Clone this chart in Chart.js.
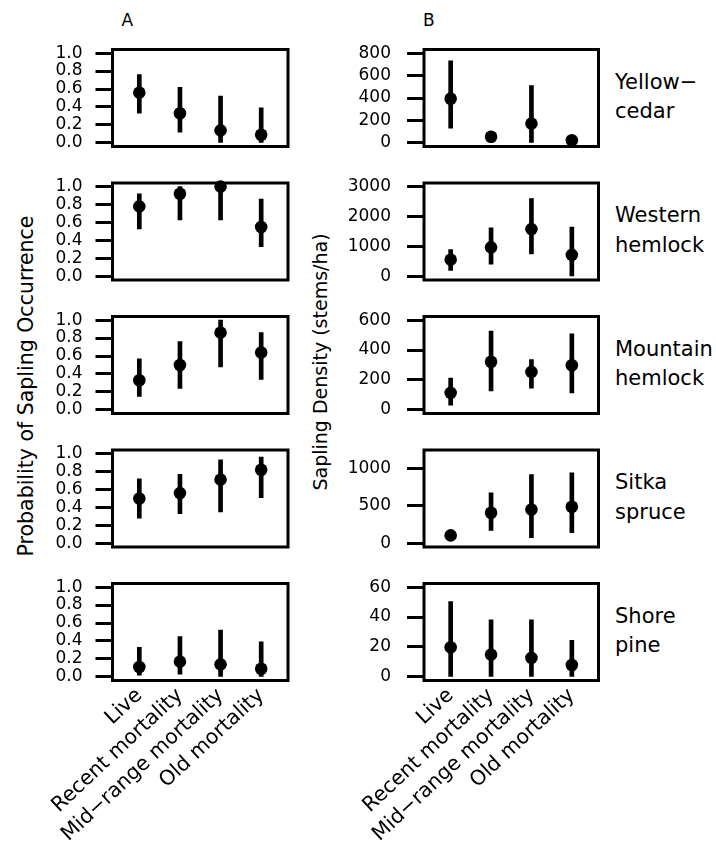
<!DOCTYPE html>
<html>
<head>
<meta charset="utf-8">
<script src="https://cdn.jsdelivr.net/npm/chart.js@4.4.1/dist/chart.umd.min.js"></script>
<style>
  body { margin: 0; background: #fff; }
  #fig { position: relative; width: 716px; height: 846px; overflow: hidden; font-family: 'DejaVu Sans', sans-serif; color: #000; }
  #fig canvas { position: absolute; }
  .lbl { position: absolute; white-space: nowrap; }
</style>
</head>
<body>
<div id="fig"></div>
<script>
// categorias do eixo x
const categories = ['Live', 'Recent mortality', 'Mid−range mortality', 'Old mortality'];

// nome das espécies (uma linha de painéis por espécie)
const speciesLines = [['Yellow−', 'cedar'], ['Western', 'hemlock'], ['Mountain', 'hemlock'], ['Sitka', 'spruce'], ['Shore', 'pine']];

// Painel A: probabilidade de ocorrência (estimativa, limite inferior, superior)
const occMean = [
    [0.56, 0.33, 0.14, 0.09],
    [0.78, 0.92, 1.00, 0.55],
    [0.33, 0.50, 0.86, 0.64],
    [0.50, 0.56, 0.71, 0.82],
    [0.11, 0.17, 0.14, 0.09]
];
const occLower = [
    [0.33, 0.12, 0.00, 0.00],
    [0.53, 0.63, 0.63, 0.33],
    [0.15, 0.24, 0.48, 0.34],
    [0.28, 0.33, 0.35, 0.51],
    [0.02, 0.03, 0.00, 0.00]
];
const occUpper = [
    [0.76, 0.62, 0.52, 0.39],
    [0.92, 1.00, 1.00, 0.86],
    [0.57, 0.76, 1.00, 0.86],
    [0.72, 0.77, 0.93, 0.96],
    [0.33, 0.45, 0.52, 0.39]
];
const occTicks = [0, 0.2, 0.4, 0.6, 0.8, 1.0];

// Painel B: densidade de mudas (stems/ha)
const denMean = [
    [394, 55, 172, 23],
    [560, 970, 1580, 720],
    [114, 322, 254, 298],
    [107, 409, 453, 489],
    [19.8, 14.9, 12.7, 8]
];
const denLower = [
    [131, 20, 0, 0],
    [200, 410, 750, 0],
    [31, 127, 145, 114],
    [60, 173, 76, 142],
    [0, 0, 0, 0]
];
const denUpper = [
    [730, 90, 511, 45],
    [900, 1620, 2600, 1650],
    [212, 526, 337, 508],
    [160, 676, 920, 942],
    [50.4, 38.2, 38.2, 24.4]
];
const denTicks = [[0, 200, 400, 600, 800], [0, 1000, 2000, 3000], [0, 200, 400, 600], [0, 500, 1000], [0, 20, 40, 60]];
const denMax = [800, 3000, 600, 1200, 60];

// layout
const fig = document.getElementById('fig');
const boxH = 97;
const rowTop = [49.5, 183, 316.5, 450, 583.5];
const cols = [
    { canvasLeft: 30, canvasW: 270, boxLeft: 112.5, boxRight: 288, tickPad: 13 },
    { canvasLeft: 340, canvasW: 270, boxLeft: 424, boxRight: 598.5, tickPad: 16 }
];
const FONT = 'DejaVu Sans';
const MARGIN = 32; // folga acima/abaixo da caixa (rótulos do eixo y precisam de espaço)

// moldura em volta da área do gráfico
const frame = {
    id: 'frame',
    afterDatasetsDraw(chart) {
        const { ctx, chartArea: a } = chart;
        ctx.save();
        ctx.lineWidth = 3;
        ctx.strokeStyle = '#000';
        ctx.strokeRect(a.left, a.top, a.right - a.left, a.bottom - a.top);
        ctx.restore();
    }
};

const makePanel = (col, row) => {
    const isLast = row === speciesLines.length - 1;
    const c = cols[col];
    const boxTop = rowTop[row];
    const boxBottom = boxTop + boxH;
    const canvasTop = Math.floor(boxTop) - MARGIN;
    const canvasH = isLast ? 846 - canvasTop : Math.ceil(boxBottom) + MARGIN - canvasTop;

    const canvas = document.createElement('canvas');
    canvas.width = c.canvasW;
    canvas.height = canvasH;
    canvas.style.left = c.canvasLeft + 'px';
    canvas.style.top = canvasTop + 'px';
    fig.appendChild(canvas);

    const mean = col === 0 ? occMean[row] : denMean[row];
    const lower = col === 0 ? occLower[row] : denLower[row];
    const upper = col === 0 ? occUpper[row] : denUpper[row];
    const yMax = col === 0 ? 1 : denMax[row];
    const yTicks = col === 0 ? occTicks : denTicks[row];

    new Chart(canvas, {
        type: 'scatter',
        data: {
            datasets: [
                {
                    type: 'scatter',
                    data: mean.map((v, i) => ({ x: i + 1, y: v })),
                    pointRadius: 6.3,
                    pointHoverRadius: 6.3,
                    backgroundColor: '#000',
                    borderWidth: 0,
                    order: 0,
                    clip: false
                },
                {
                    type: 'bar',
                    data: mean.map((v, i) => ({ x: i + 1, y: [lower[i], upper[i]] })),
                    backgroundColor: '#000',
                    barThickness: 4,
                    borderWidth: 0,
                    order: 1
                }
            ]
        },
        options: {
            responsive: false,
            animation: false,
            events: [],
            layout: {
                padding: {
                    top: boxTop - canvasTop,
                    right: c.canvasLeft + c.canvasW - c.boxRight,
                    bottom: isLast ? 0 : canvasTop + canvasH - boxBottom,
                    left: 0
                }
            },
            plugins: { legend: { display: false }, tooltip: { enabled: false } },
            scales: {
                x: {
                    type: 'linear',
                    min: 0.34,
                    max: 4.66,
                    offset: false,
                    bounds: 'data',
                    display: isLast,
                    afterBuildTicks: s => { s.ticks = categories.map((_, i) => ({ value: i + 1 })); },
                    afterFit: isLast ? s => { s.height = canvasTop + canvasH - boxBottom; } : undefined,
                    grid: { display: false, drawTicks: false, offset: false },
                    border: { display: false },
                    ticks: {
                        autoSkip: false,
                        minRotation: 43,
                        maxRotation: 43,
                        padding: 3,
                        color: '#000',
                        font: { family: FONT, size: 20.5 },
                        callback: v => categories[v - 1]
                    }
                },
                y: {
                    type: 'linear',
                    min: -0.04 * yMax,
                    max: 1.04 * yMax,
                    bounds: 'data',
                    afterBuildTicks: s => { s.ticks = yTicks.map(v => ({ value: v })); },
                    afterFit: s => { s.width = c.boxLeft - c.canvasLeft; },
                    grid: { drawOnChartArea: false, drawTicks: true, tickLength: 17, tickWidth: 3, tickColor: '#000' },
                    border: { display: false },
                    ticks: {
                        autoSkip: false,
                        padding: c.tickPad,
                        color: '#000',
                        font: { family: FONT, size: 17 },
                        callback: v => col === 0 ? v.toFixed(1) : String(v)
                    }
                }
            }
        },
        plugins: [frame]
    });
};

// textos em HTML
const addLabel = (text, css) => {
    const div = document.createElement('div');
    div.className = 'lbl';
    div.innerHTML = text;
    Object.assign(div.style, css);
    fig.appendChild(div);
};

addLabel('A', { left: '121.5px', top: '11.5px', fontSize: '17px', lineHeight: '17px' });
addLabel('B', { left: '423px', top: '11.5px', fontSize: '17px', lineHeight: '17px' });

addLabel('Probability of Sapling Occurrence', {
    left: '26px', top: '385.5px', fontSize: '20.5px', lineHeight: '20px',
    transform: 'translate(-50%, -50%) rotate(-90deg)'
});
addLabel('Sapling Density (stems/ha)', {
    left: '320px', top: '361.5px', fontSize: '19px', lineHeight: '20px',
    transform: 'translate(-50%, -50%) rotate(-90deg)'
});

speciesLines.forEach((lines, row) => {
    addLabel(lines.join('<br>'), {
        left: '615px', top: (rowTop[row] + 18) + 'px', fontSize: '21px', lineHeight: '29.5px'
    });
});

// desenha os 10 painéis
speciesLines.forEach((_, row) => {
    makePanel(0, row);
    makePanel(1, row);
});
</script>
</body>
</html>
